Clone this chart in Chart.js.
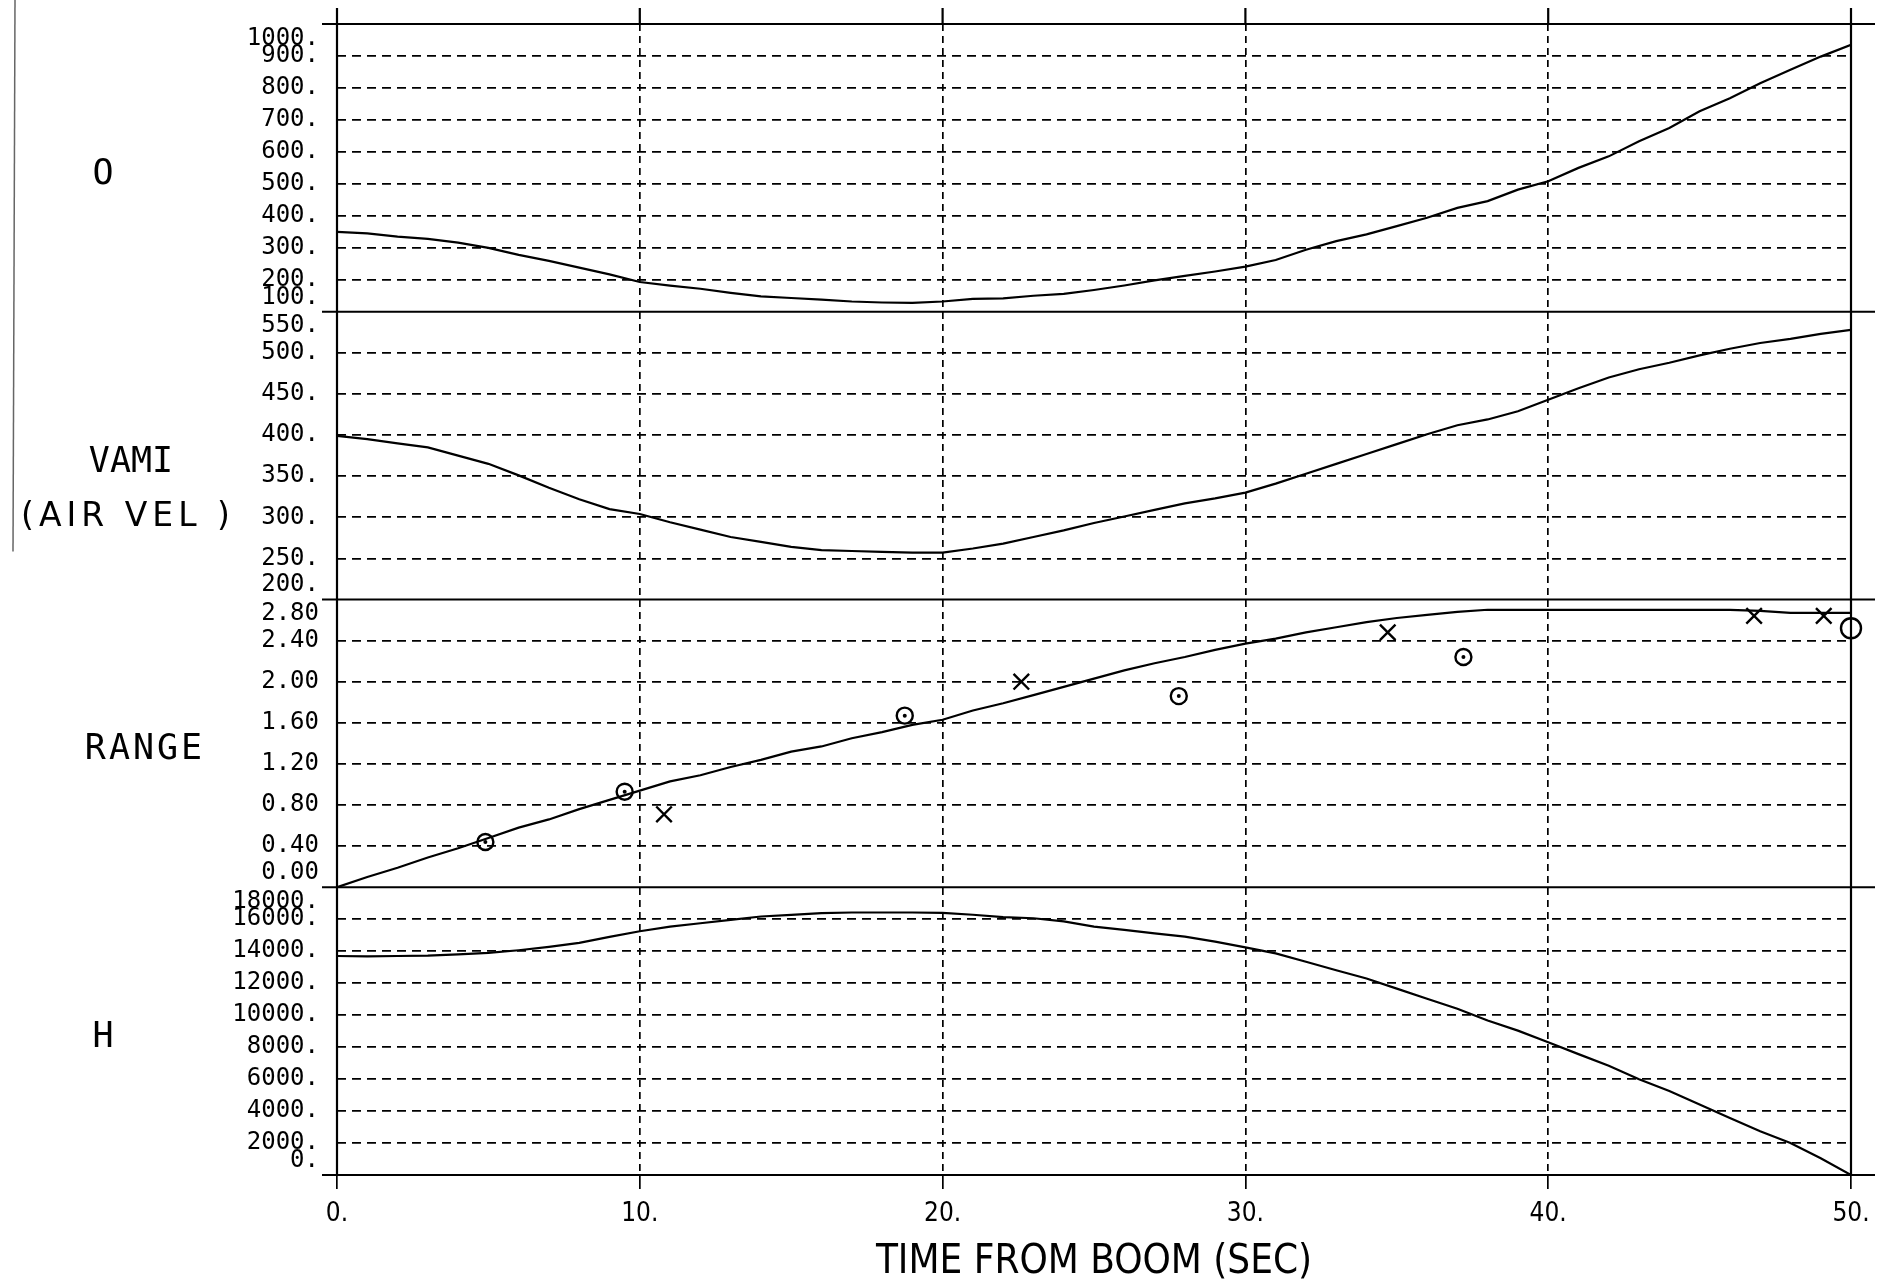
<!DOCTYPE html>
<html lang="en">
<head>
<meta charset="UTF-8">
<title>Time from boom</title>
<script src="https://cdn.jsdelivr.net/npm/chart.js@4"></script>
<style>
  html, body { margin: 0; padding: 0; background: #fff; }
  canvas { display: block; }
</style>
</head>
<body>
<canvas id="boomChart" width="1903" height="1285"></canvas>
<script>
// time from boom, seconds
const timeSec = [0,1,2,3,4,5,6,7,8,9,10,11,12,13,14,15,16,17,18,19,20,21,22,23,24,25,
                 26,27,28,29,30,31,32,33,34,35,36,37,38,39,40,41,42,43,44,45,46,47,48,49,50];

// curves, one value per second
const oValues = [350,345,335,328,316,300,278,259,238,217,
                 193,182,172,159,148,143,138,132,129,128,
                 132,140,142,150,156,168,182,198,212,226,
                 241,262,294,321,342,368,394,425,446,482,
                 508,550,586,633,675,727,768,815,857,898,
                 935];
const vamiValues = [399,395,390,385,375,365,351,336,322,310,
                    304,294,285,276,270,264,260,259,258,257,
                    257,262,268,276,284,293,301,309,317,323,
                    330,341,353,365,377,389,401,412,419,429,
                    443,457,470,480,488,497,505,512,517,523,
                    528];
const rangeValues = [0,0.10,0.19,0.29,0.38,0.48,0.58,0.66,0.76,0.85,
                     0.94,1.03,1.09,1.17,1.24,1.32,1.37,1.45,1.51,1.58,
                     1.63,1.72,1.79,1.87,1.95,2.03,2.11,2.18,2.24,2.31,
                     2.37,2.42,2.48,2.53,2.58,2.62,2.65,2.68,2.70,2.70,
                     2.70,2.70,2.70,2.70,2.70,2.70,2.70,2.69,2.67,2.67,
                     2.67];
const hValues = [13700,13680,13700,13720,13800,13890,14060,14270,14520,14900,
                 15250,15540,15750,15960,16170,16275,16380,16420,16420,16420,
                 16400,16280,16130,16060,15860,15540,15330,15120,14910,14600,
                 14240,13860,13340,12810,12290,11660,11030,10400,9660,9030,
                 8300,7560,6830,5990,5250,4410,3570,2730,2000,1050,
                 0];

// hand plotted range observations
const circleTimes = [4.9, 9.5, 18.75, 27.8, 37.2, 50.0];
const circleRanges = [0.44, 0.93, 1.67, 1.86, 2.24, 2.52];
const crossTimes = [10.8, 22.6, 34.7, 46.8, 49.1];
const crossRanges = [0.71, 2.00, 2.48, 2.64, 2.64];

const panelNames = ['O', 'VAMI', 'RANGE', 'H'];
const panelNote = '(AIR VEL )';

const MONO = '"DejaVu Sans Mono", "Liberation Mono", monospace';
const NARROW = '"Liberation Sans Narrow", "DejaVu Sans Condensed", "Liberation Sans", sans-serif';

const pts = (xs, ys) => xs.map((x, i) => ({ x: x, y: ys[i] }));

// edge lines are drawn solid by the frame plugin, so hide them here
const innerOnly = ctx =>
  (ctx.index === 0 || ctx.index === ctx.scale.ticks.length - 1) ? 'rgba(0,0,0,0)' : '#000';

function panelAxis(min, max, step, fmt) {
  return {
    type: 'linear',
    position: 'left',
    stack: 'panels',
    stackWeight: 1,
    min: min,
    max: max,
    ticks: {
      stepSize: step,
      autoSkip: false,
      padding: 18,
      color: '#000',
      font: { family: MONO, size: 24 },
      callback: (v, i, t) => {
        const s = fmt(v);
        if (i === t.length - 1) return ['', s];   // top label pushed down into the panel
        if (i === 0) return [s, ''];              // bottom label pushed up
        return s;
      }
    },
    grid: { color: innerOnly, lineWidth: 1.7, drawTicks: false },
    border: { display: false, dash: [9, 6] },
    afterFit: s => {
      s.width = 337;
      s.paddingTop = 0;      // labels stay inside their panel, no extra room needed
      s.paddingBottom = 0;
    }
  };
}

const framePlugin = {
  id: 'frame',
  afterDraw(chart) {
    const { ctx, chartArea: a, scales } = chart;
    const ids = ['yO', 'yV', 'yR', 'yH'];
    ctx.save();
    ctx.strokeStyle = '#000';
    ctx.lineWidth = 2.2;
    ctx.setLineDash([]);
    ctx.beginPath();
    ids.forEach(id => {
      const s = scales[id];
      [s.top, s.bottom].forEach(y => { ctx.moveTo(a.left - 15, y); ctx.lineTo(a.right + 24, y); });
    });
    [a.left, a.right].forEach(x => { ctx.moveTo(x, a.top - 16); ctx.lineTo(x, a.bottom); });
    scales.x.ticks.forEach(t => {
      const x = scales.x.getPixelForValue(t.value);
      ctx.moveTo(x, a.top - 16); ctx.lineTo(x, a.top);
    });
    ctx.stroke();

    // page edge of the scanned sheet
    ctx.strokeStyle = '#666';
    ctx.lineWidth = 1.5;
    ctx.beginPath();
    ctx.moveTo(15, 0); ctx.lineTo(13, scales.yV.bottom - 48);
    ctx.stroke();

    // panel names on the left
    const nameX = [103, 131, 145, 103];
    ctx.fillStyle = '#000';
    ctx.textAlign = 'center';
    ctx.textBaseline = 'middle';
    ctx.font = '35px ' + MONO;
    ids.forEach((id, i) => {
      const s = scales[id];
      ctx.letterSpacing = i === 2 ? '3px' : '0px';
      ctx.fillText(panelNames[i], nameX[i], (s.top + s.bottom) / 2 + 7);
    });
    const v = scales.yV;
    ctx.font = '33px "DejaVu Sans", sans-serif';
    ctx.letterSpacing = '5px';
    ctx.fillText(panelNote, 128, (v.top + v.bottom) / 2 + 62);
    ctx.restore();
  }
};

const curve = (data, axis) => ({
  data: data,
  yAxisID: axis,
  showLine: true,
  borderColor: '#000',
  borderWidth: 2.2,
  pointRadius: 0,
  tension: 0
});

new Chart(document.getElementById('boomChart'), {
  type: 'scatter',
  data: {
    datasets: [
      curve(pts(timeSec, oValues), 'yO'),
      curve(pts(timeSec, vamiValues), 'yV'),
      curve(pts(timeSec, rangeValues), 'yR'),
      curve(pts(timeSec, hValues), 'yH'),
      {
        data: pts(circleTimes, circleRanges),
        yAxisID: 'yR',
        pointStyle: 'circle',
        pointRadius: c => (c.dataIndex === circleTimes.length - 1 ? 10 : 8),
        pointBorderWidth: 2.4,
        pointBorderColor: '#000',
        pointBackgroundColor: 'rgba(0,0,0,0)',
        clip: false
      },
      {
        data: pts(circleTimes, circleRanges),
        yAxisID: 'yR',
        pointStyle: 'circle',
        pointRadius: c => (c.dataIndex === circleTimes.length - 1 ? 0 : 2),
        pointBorderWidth: 0,
        pointBackgroundColor: '#000',
        clip: false
      },
      {
        data: pts(crossTimes, crossRanges),
        yAxisID: 'yR',
        pointStyle: 'crossRot',
        pointRadius: 11,
        pointBorderWidth: 2.4,
        pointBorderColor: '#000',
        clip: false
      }
    ]
  },
  options: {
    responsive: false,
    animation: false,
    layout: { padding: { top: 24, right: 52, bottom: 0, left: 0 } },
    plugins: { legend: { display: false }, tooltip: { enabled: false } },
    scales: {
      x: {
        type: 'linear',
        position: 'bottom',
        min: 0,
        max: 50,
        ticks: {
          stepSize: 10,
          padding: 10,
          maxRotation: 0,
          color: '#000',
          font: { family: NARROW, size: 26 },
          callback: v => v + '.'
        },
        grid: { color: innerOnly, lineWidth: 1.7, tickLength: 14, tickColor: '#000', tickWidth: 1.7 },
        border: { display: false, dash: [7, 5] },
        title: {
          display: true,
          text: 'TIME FROM BOOM (SEC)',
          color: '#000',
          font: { family: NARROW, size: 40, lineHeight: 1.1 },
          padding: { top: 0, bottom: 0 }
        },
        afterFit: s => { s.height = 110; }
      },
      // stacked panels: the first one listed sits at the bottom
      yH: panelAxis(0, 18000, 2000, v => v + '.'),
      yR: panelAxis(0, 2.8, 0.4, v => v.toFixed(2)),
      yV: panelAxis(200, 550, 50, v => v + '.'),
      yO: panelAxis(100, 1000, 100, v => v + '.')
    }
  },
  plugins: [framePlugin]
});
</script>
</body>
</html>
